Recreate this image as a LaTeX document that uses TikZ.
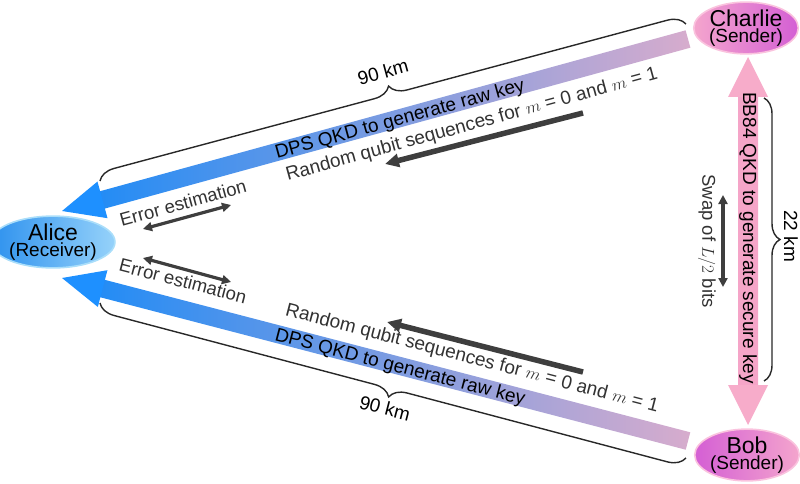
\documentclass[tikz,border=0pt]{standalone}
\usepackage{fontspec}
\setmainfont{Liberation Sans}
\usetikzlibrary{arrows.meta,calc,decorations.pathreplacing,shapes.geometric}

\definecolor{shaftL}{RGB}{35,140,245}
\definecolor{shaftM}{RGB}{120,150,228}
\definecolor{shaftR}{RGB}{215,172,205}
\definecolor{headblue}{RGB}{30,144,255}
\definecolor{pinkend}{RGB}{245,165,200}
\definecolor{pinkmid}{RGB}{212,105,215}
\definecolor{pinkhead}{RGB}{247,172,202}
\definecolor{darkarr}{RGB}{62,62,62}
\definecolor{labgray}{RGB}{50,50,50}
\definecolor{alicedeep}{RGB}{45,145,238}
\definecolor{alicelight}{RGB}{150,210,250}
\definecolor{alicerim}{RGB}{170,222,250}
\definecolor{magentaA}{RGB}{212,95,212}
\definecolor{pinkA}{RGB}{244,165,205}
\definecolor{pinkrim}{RGB}{250,195,222}
\definecolor{bracecol}{RGB}{40,40,40}

\newcommand\mylbl{\fontsize{19}{22}\selectfont}
\newcommand\mysmall{\fontsize{18.5}{22}\selectfont}

\begin{document}
\begin{tikzpicture}[x=1pt,y=-1pt,
  person/.style={ellipse, minimum width=102pt, minimum height=51pt, inner sep=0pt,
    line width=1.6pt, align=center, font=\fontsize{19}{16}\selectfont},
  darkarrow/.style={draw=darkarr, line width=5.5pt, -{Triangle[length=14pt,width=13pt]}},
  thinarrow/.style={draw=darkarr, line width=3.2pt, {Triangle[length=9pt,width=9pt]}-{Triangle[length=9pt,width=9pt]}},
  bracestyle/.style={draw=bracecol, line width=1.4pt, decorate},
  lbl/.style={font=\mylbl, inner sep=1pt},
  glbl/.style={font=\mylbl, text=labgray, inner sep=1pt},
  errlbl/.style={font=\mysmall, text=labgray, fill=white, inner sep=2pt}
]
\useasboundingbox (0,0) rectangle (800,484);

% key points
\coordinate (A1) at (62,211);
\coordinate (C1) at (688,39);
\coordinate (A2) at (62,278);
\coordinate (C2) at (688,441);
\coordinate (T) at (748,57);
\coordinate (Bt) at (748,425);

% upper big arrow (Charlie -> Alice)
\shade[left color=shaftL, middle color=shaftM, right color=shaftR]
  ($(A1)!38pt!(C1)!9pt!90:(C1)$) -- ($(C1)!9pt!-90:(A1)$) --
  ($(C1)!9pt!90:(A1)$) -- ($(A1)!38pt!(C1)!9pt!-90:(C1)$) -- cycle;
\fill[headblue] (A1) -- ($(A1)!42pt!(C1)!19pt!90:(C1)$) -- ($(A1)!42pt!(C1)!19pt!-90:(C1)$) -- cycle;

% lower big arrow (Bob -> Alice)
\shade[left color=shaftL, middle color=shaftM, right color=shaftR]
  ($(A2)!38pt!(C2)!9pt!90:(C2)$) -- ($(C2)!9pt!-90:(A2)$) --
  ($(C2)!9pt!90:(A2)$) -- ($(A2)!38pt!(C2)!9pt!-90:(C2)$) -- cycle;
\fill[headblue] (A2) -- ($(A2)!42pt!(C2)!19pt!90:(C2)$) -- ($(A2)!42pt!(C2)!19pt!-90:(C2)$) -- cycle;

% vertical double arrow (Charlie <-> Bob)
\shade[top color=pinkend, middle color=pinkmid, bottom color=pinkend]
  ($(T)+(-10,38)$) rectangle ($(Bt)+(10,-38)$);
\fill[pinkhead] (T) -- ($(T)+(-20,40)$) -- ($(T)+(20,40)$) -- cycle;
\fill[pinkhead] (Bt) -- ($(Bt)+(-20,-40)$) -- ($(Bt)+(20,-40)$) -- cycle;

% people
\node[person, draw=alicerim, left color=alicedeep, right color=alicelight] (alice) at (53,242)
  {{\fontsize{23}{16}\selectfont Alice}\\(Receiver)};
\node[person, draw=pinkrim, left color=pinkA, right color=magentaA] (charlie) at (746,28)
  {{\fontsize{23}{16}\selectfont Charlie}\\(Sender)};
\node[person, draw=pinkrim, left color=magentaA, right color=pinkA] (bob) at (747,455)
  {{\fontsize{23}{16}\selectfont Bob}\\(Sender)};

% labels on the shafts
\node[lbl, rotate=15.36] (dps1) at (400,120) {DPS QKD to generate raw key};
\node[lbl, rotate=-14.6] (dps2) at (400,368) {DPS QKD to generate raw key};
\node[lbl, rotate=-90] (bb84) at (748,238) {BB84 QKD to generate secure key};

% random qubit labels and arrows
\node[glbl, rotate=15.36] (rq1) at (472,125) {Random qubit sequences for $m$ = 0 and $m$ = 1};
\node[glbl, rotate=-14.6] (rq2) at (472,359) {Random qubit sequences for $m$ = 0 and $m$ = 1};
\coordinate (r1s) at (583,113);
\coordinate (r1e) at (385,164);
\coordinate (r2s) at (583,372);
\coordinate (r2e) at (387,322);
\draw[darkarrow] (r1s) -- (r1e);
\draw[darkarrow] (r2s) -- (r2e);

% error estimation
\node[errlbl, rotate=15.4] (err1) at (183,203) {Error estimation};
\node[errlbl, rotate=-14.6] (err2) at (183,281) {Error estimation};
\coordinate (e1a) at (143,229);
\coordinate (e1b) at (231,205);
\coordinate (e2a) at (143,258);
\coordinate (e2b) at (231,282);
\draw[thinarrow] (e1a) -- (e1b);
\draw[thinarrow] (e2a) -- (e2b);

% swap
\node[font=\mysmall, text=labgray, rotate=-90, inner sep=1pt] (swap) at (707,241) {Swap of $L/2$ bits};
\coordinate (s1) at (723,195);
\coordinate (s2) at (723,287);
\draw[thinarrow] (s1) -- (s2);

% braces
\coordinate (ub1) at (100,181);
\coordinate (ub2) at (686,24);
\coordinate (lb1) at (100,303);
\coordinate (lb2) at (686,458);
\coordinate (vb1) at (764,98);
\coordinate (vb2) at (764,381);
\draw[bracestyle, decoration={brace, amplitude=17pt}] (ub1) -- (ub2);
\draw[bracestyle, decoration={brace, mirror, amplitude=17pt}] (lb1) -- (lb2);
\draw[bracestyle, decoration={brace, amplitude=16pt}] (vb1) -- (vb2);
\node[lbl, rotate=15.36] (km1) at (383,72) {90 km};
\node[lbl, rotate=-14.6] (km2) at (385,408) {90 km};
\node[lbl, rotate=-90] (km3) at (791,236) {22 km};
\end{tikzpicture}
\end{document}
